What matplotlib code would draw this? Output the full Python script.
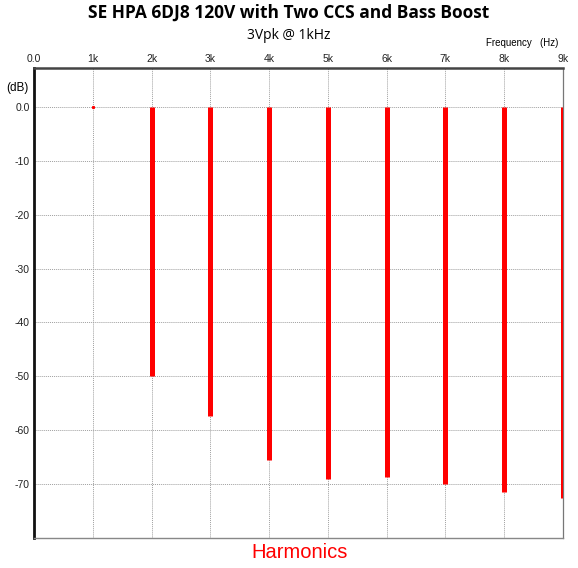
import matplotlib.pyplot as plt

# harmonic levels (dB)
freqs = [1000, 2000, 3000, 4000, 5000, 6000, 7000, 8000, 9000]
levels = [0.0, -50.0, -57.4, -65.6, -69.1, -68.7, -70.0, -71.5, -72.6]

x_ticks = [0, 1000, 2000, 3000, 4000, 5000, 6000, 7000, 8000, 9000]
x_labels = ['0.0', '1k', '2k', '3k', '4k', '5k', '6k', '7k', '8k', '9k']
y_ticks = [0, -10, -20, -30, -40, -50, -60, -70]
y_labels = ['0.0', '-10', '-20', '-30', '-40', '-50', '-60', '-70']


def draw():
    fig = plt.figure(figsize=(5.78, 5.68), dpi=100)
    ax = fig.add_axes([0.0588, 0.0528, 0.9152, 0.8272])

    ax.vlines(freqs, 0, levels, color='#ff0000', linewidth=3.6, zorder=3)
    ax.plot([freqs[0]], [levels[0]], marker='s', markersize=1.2, color='#ff0000', zorder=3)

    ax.set_xlim(0, 9000)
    ax.set_ylim(-80, 7.2)
    ax.set_xticks(x_ticks)
    ax.set_xticklabels(x_labels)
    ax.set_yticks(y_ticks)
    ax.set_yticklabels(y_labels)
    ax.xaxis.tick_top()
    ax.tick_params(length=0, labelsize=7.5, pad=3, colors='#222222')
    for lab in ax.get_xticklabels() + ax.get_yticklabels():
        lab.set_family('Liberation Sans')

    ax.grid(True, color='#a0a0a0', linestyle=(0, (1, 1)), linewidth=0.7)

    ax.spines['left'].set_linewidth(2)
    ax.spines['left'].set_color('#111111')
    ax.spines['top'].set_linewidth(1.8)
    ax.spines['top'].set_color('#444444')
    ax.spines['right'].set_linewidth(0.9)
    ax.spines['right'].set_color('#777777')
    ax.spines['bottom'].set_linewidth(1.0)
    ax.spines['bottom'].set_color('#888888')

    fig.text(0.5, 0.978, 'SE HPA 6DJ8 120V with Two CCS and Bass Boost',
             ha='center', va='center', fontsize=12.5, fontweight='bold', family='Open Sans')
    fig.text(0.5, 0.938, '3Vpk @ 1kHz', ha='center', va='center',
             fontsize=10, family='Open Sans')
    fig.text(0.9655, 0.924, 'Frequency   (Hz)', ha='right', va='center',
             fontsize=7, family='Liberation Sans')
    fig.text(0.031, 0.845, '(dB)', ha='center', va='center',
             fontsize=8.5, family='Liberation Sans')
    fig.text(0.518, 0.028, 'Harmonics', ha='center', va='center',
             fontsize=14.5, color='#ff0000', family='Liberation Sans')

    fig.savefig('out.png', dpi=100)


if __name__ == '__main__':
    draw()
